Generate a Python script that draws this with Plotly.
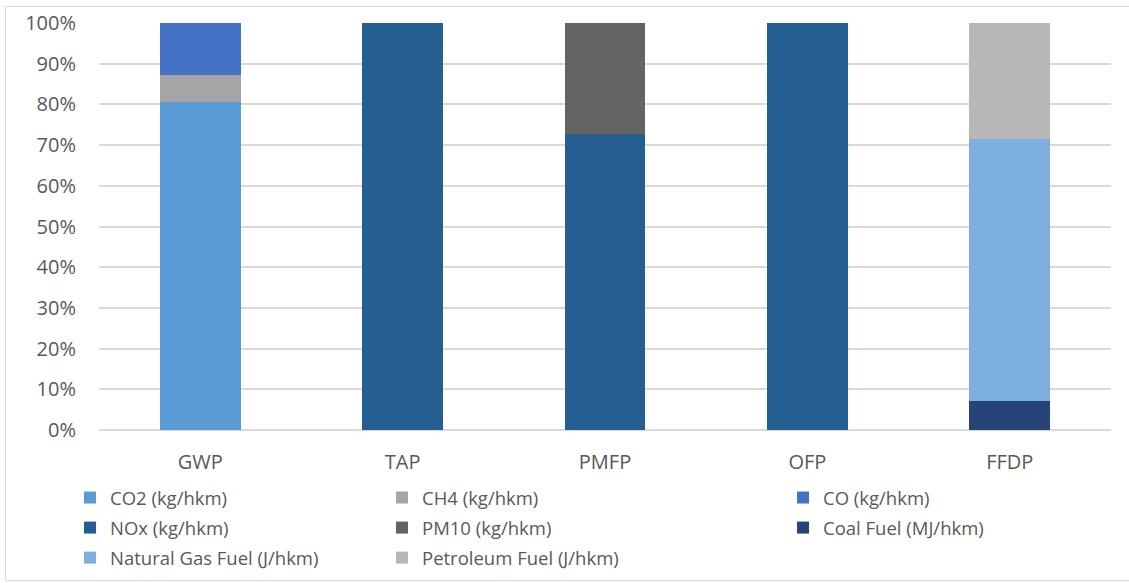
import plotly.graph_objects as go

categories = ["GWP", "TAP", "PMFP", "OFP", "FFDP"]

series_names = [
    "CO2 (kg/hkm)", "CH4 (kg/hkm)", "CO (kg/hkm)", "NOx (kg/hkm)",
    "PM10 (kg/hkm)", "Coal Fuel (MJ/hkm)", "Natural Gas Fuel (J/hkm)",
    "Petroleum Fuel (J/hkm)",
]
co2 = [80.7, 0, 0, 0, 0]
ch4 = [6.5, 0, 0, 0, 0]
co = [12.8, 0, 0, 0, 0]
nox = [0, 100, 72.7, 100, 0]
pm10 = [0, 0, 27.3, 0, 0]
coal = [0, 0, 0, 0, 7.1]
natural_gas = [0, 0, 0, 0, 64.4]
petroleum = [0, 0, 0, 0, 28.5]
series_values = [co2, ch4, co, nox, pm10, coal, natural_gas, petroleum]

y_ticks = [0, 10, 20, 30, 40, 50, 60, 70, 80, 90, 100]

colors = ["#5B9BD5", "#A5A5A5", "#4472C4", "#255E91", "#636363",
          "#264478", "#7CAFDD", "#B7B7B7"]
legend_ids = ["legend", "legend2", "legend3", "legend", "legend2",
              "legend3", "legend", "legend2"]

W, H = 1129, 583
L, R, T, B = 99, 18, 23, 153
pw, ph = W - L - R, H - T - B


def px_x(p):
    return (p - L) / pw


def px_y(p):
    return (H - B - p) / ph


FONT = "Open Sans"
TXT = "#595959"
FS_LEG = 18.5
FS_TICK = 20

fig = go.Figure()
for name, vals, col, lg in zip(series_names, series_values, colors, legend_ids):
    fig.add_trace(go.Bar(
        x=categories, y=vals, name=name, marker=dict(color=col, line=dict(width=0)),
        legend=lg, legendgroup=name, width=0.4,
    ))

leg_common = dict(
    orientation="v", xanchor="left", yanchor="top", bgcolor="rgba(0,0,0,0)",
    font=dict(family=FONT, size=FS_LEG, color=TXT), tracegroupgap=3,
    itemclick=False, itemdoubleclick=False,
)
fig.update_layout(
    width=W, height=H,
    margin=dict(l=L, r=R, t=T, b=B, pad=0, autoexpand=False),
    barmode="stack",
    plot_bgcolor="white", paper_bgcolor="white",
    font=dict(family=FONT, size=FS_TICK, color=TXT),
    legend=dict(x=px_x(70), y=px_y(479), **leg_common),
    legend2=dict(x=px_x(382), y=px_y(479), **leg_common),
    legend3=dict(x=px_x(783), y=px_y(479), **leg_common),
    xaxis=dict(showgrid=False, showline=False, ticks="", ticklabelstandoff=18,
               tickfont=dict(family=FONT, size=FS_TICK, color=TXT), range=[-0.5, 4.5]),
    yaxis=dict(range=[0, 100], tickvals=y_ticks,
               ticktext=[f"{v}%" for v in y_ticks], showgrid=True,
               gridcolor="#D9D9D9", gridwidth=1.5, zeroline=True,
               zerolinecolor="#D9D9D9", zerolinewidth=1.5, showline=False,
               ticks="", ticklabelstandoff=22,
               tickfont=dict(family=FONT, size=FS_TICK, color=TXT)),
    bargap=0.6,
    shapes=[dict(type="rect", xref="paper", yref="paper",
                 x0=px_x(5.5), x1=px_x(1140), y0=px_y(580.5), y1=px_y(6.5),
                 line=dict(color="#D9D9D9", width=1), fillcolor="rgba(0,0,0,0)",
                 layer="below")],
)

fig.write_html(
    "out.html",
    config={"displayModeBar": False},
    post_script="document.body.style.margin='0';document.body.style.padding='0';",
)
